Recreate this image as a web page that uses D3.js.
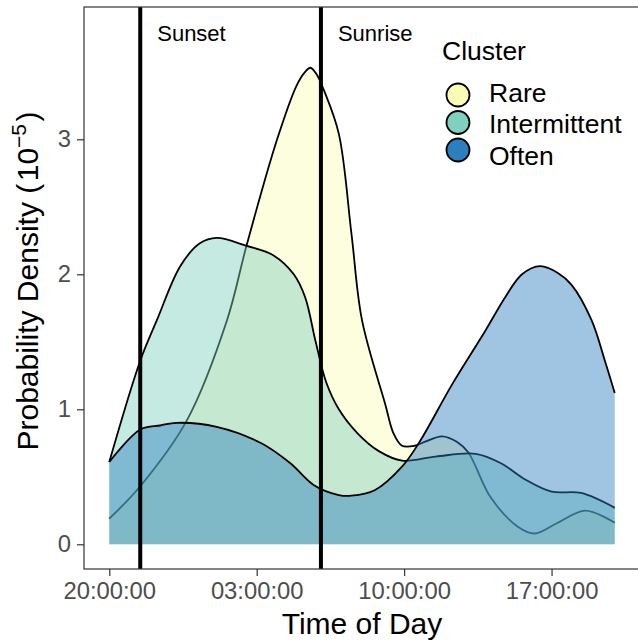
<!DOCTYPE html>
<html>
<head>
<meta charset="utf-8">
<script src="https://cdn.jsdelivr.net/npm/d3@7"></script>
<style>
  body { margin: 0; background: #fff; }
  text { font-family: "Liberation Sans", Arial, sans-serif; }
</style>
</head>
<body>
<script>
// hours since 20:00:00, density in units of 1e-5
const clusters = ["Rare", "Intermittent", "Often"];
const clusterColors = ["#fafcb6", "#7fd1bf", "#2c7fbf"];

const rareHours   = [0, 1.47, 3.69, 5.59, 6.53, 7.97, 8.9, 9.3, 9.55, 9.85, 10.2, 10.9, 11.5, 12.0, 13.1, 13.5, 13.9, 14.5, 15.0, 15.8, 16.5, 17.05, 18.1, 19.4, 20.2, 21.3, 22.6, 24];
const rareDensity = [0.19, 0.43, 0.92, 1.66, 2.22, 3.0, 3.40, 3.50, 3.53, 3.48, 3.36, 3.04, 2.3, 1.66, 1.04, 0.82, 0.73, 0.73, 0.76, 0.80, 0.76, 0.68, 0.35, 0.13, 0.08, 0.16, 0.25, 0.16];

const intHours   = [0, 1.47, 2.26, 3.37, 4.3, 5.1, 6.53, 7.8, 8.76, 9.3, 9.8, 10.3, 10.9, 11.8, 12.8, 13.9, 15.5, 17.4, 18.6, 19.75, 21.0, 22.4, 24];
const intDensity = [0.61, 1.36, 1.66, 2.06, 2.23, 2.27, 2.21, 2.14, 2.0, 1.83, 1.5, 1.2, 1.0, 0.82, 0.69, 0.62, 0.65, 0.67, 0.60, 0.48, 0.39, 0.38, 0.27];

const oftenHours   = [0, 1.47, 2.42, 3.2, 5.1, 7.2, 8.6, 9.7, 10.9, 11.5, 12.6, 13.9, 14.7, 16.3, 17.85, 18.8, 19.6, 20.46, 21.3, 21.96, 22.9, 23.55, 24];
const oftenDensity = [0.61, 0.85, 0.88, 0.90, 0.87, 0.75, 0.60, 0.44, 0.365, 0.36, 0.40, 0.575, 0.75, 1.19, 1.58, 1.83, 2.0, 2.06, 2.01, 1.92, 1.66, 1.35, 1.12];

const tickHours = [0, 7, 14, 21];
const tickLabels = ["20:00:00", "03:00:00", "10:00:00", "17:00:00"];
const yTicks = [0, 1, 2, 3];

const sunsetHour = 1.47;
const sunriseHour = 10.05;

const series = [
  {name: "Rare", hours: rareHours, vals: rareDensity},
  {name: "Intermittent", hours: intHours, vals: intDensity},
  {name: "Often", hours: oftenHours, vals: oftenDensity}
];

const width = 638, height = 641;
const panel = {left: 84, top: 7, right: 640, bottom: 569};

const svg = d3.select("body").append("svg")
  .attr("width", width)
  .attr("height", height);

const xscale = d3.scaleLinear()
  .domain([-1.2, 25.2])
  .range([panel.left, panel.right]);

const yscale = d3.scaleLinear()
  .domain([-0.183, 3.98])
  .range([panel.bottom, panel.top]);

const color = d3.scaleOrdinal().domain(clusters).range(clusterColors);

const area = d3.area()
  .x(d => xscale(d[0]))
  .y0(yscale(0))
  .y1(d => yscale(d[1]))
  .curve(d3.curveCatmullRom.alpha(0.5));

const line = d3.line()
  .x(d => xscale(d[0]))
  .y(d => yscale(d[1]))
  .curve(d3.curveCatmullRom.alpha(0.5));

// densities, each group fill then outline (like ggplot)
series.forEach(s => {
  const pts = s.hours.map((h, i) => [h, s.vals[i]]);
  svg.append("path")
    .attr("d", area(pts))
    .attr("fill", color(s.name))
    .attr("fill-opacity", 0.45);
  svg.append("path")
    .attr("d", line(pts))
    .attr("fill", "none")
    .attr("stroke", "black")
    .attr("stroke-width", 1.8);
});

// sunset / sunrise
[sunsetHour, sunriseHour].forEach(h => {
  svg.append("line")
    .attr("x1", xscale(h)).attr("x2", xscale(h))
    .attr("y1", panel.top).attr("y2", panel.bottom)
    .attr("stroke", "black")
    .attr("stroke-width", 4);
});
svg.append("text")
  .attr("x", xscale(sunsetHour) + 17).attr("y", 41)
  .attr("font-size", "22px")
  .text("Sunset");
svg.append("text")
  .attr("x", xscale(sunriseHour) + 17).attr("y", 41)
  .attr("font-size", "22px")
  .text("Sunrise");

// panel border
svg.append("rect")
  .attr("x", panel.left).attr("y", panel.top)
  .attr("width", panel.right - panel.left)
  .attr("height", panel.bottom - panel.top)
  .attr("fill", "none")
  .attr("stroke", "#333333")
  .attr("stroke-width", 1.2);

// axes
const xaxis = d3.axisBottom(xscale)
  .tickValues(tickHours)
  .tickFormat((d, i) => tickLabels[i])
  .tickSize(7)
  .tickPadding(6);
const gx = svg.append("g")
  .attr("transform", `translate(0, ${panel.bottom})`)
  .call(xaxis);
gx.select(".domain").remove();
gx.selectAll("line").attr("stroke", "#333333").attr("stroke-width", 1.2);
gx.selectAll("text")
  .attr("fill", "#4d4d4d")
  .attr("font-size", "23.8px")
  .attr("font-family", "Liberation Sans, Arial, sans-serif");

const yaxis = d3.axisLeft(yscale)
  .tickValues(yTicks)
  .tickFormat(d3.format("d"))
  .tickSize(7)
  .tickPadding(6);
const gy = svg.append("g")
  .attr("transform", `translate(${panel.left}, 0)`)
  .call(yaxis);
gy.select(".domain").remove();
gy.selectAll("line").attr("stroke", "#333333").attr("stroke-width", 1.2);
gy.selectAll("text")
  .attr("fill", "#4d4d4d")
  .attr("font-size", "23.8px")
  .attr("font-family", "Liberation Sans, Arial, sans-serif");

// axis titles
svg.append("text")
  .attr("x", (panel.left + panel.right) / 2)
  .attr("y", 634)
  .attr("text-anchor", "middle")
  .attr("font-size", "30px")
  .text("Time of Day");

const ytitle = svg.append("text")
  .attr("transform", "translate(38, 281) rotate(-90)")
  .attr("text-anchor", "middle")
  .attr("font-size", "30px");
ytitle.append("tspan").text("Probability Density (\u200a10");
ytitle.append("tspan").attr("font-size", "21px").attr("dy", -12).text("\u22125");
ytitle.append("tspan").attr("dy", 12).text("\u200a)");

// legend
const legend = svg.append("g");
legend.append("text")
  .attr("x", 442).attr("y", 60)
  .attr("font-size", "26.5px")
  .text("Cluster");
const keyY = [95, 122.5, 150];
const labelY = [101.5, 133.3, 165];
clusters.forEach((c, i) => {
  legend.append("circle")
    .attr("cx", 458).attr("cy", keyY[i])
    .attr("r", 11.5)
    .attr("fill", color(c))
    .attr("stroke", "black")
    .attr("stroke-width", 1.8);
  legend.append("text")
    .attr("x", 489).attr("y", labelY[i])
    .attr("font-size", "26.5px")
    .text(c);
});
</script>
</body>
</html>
